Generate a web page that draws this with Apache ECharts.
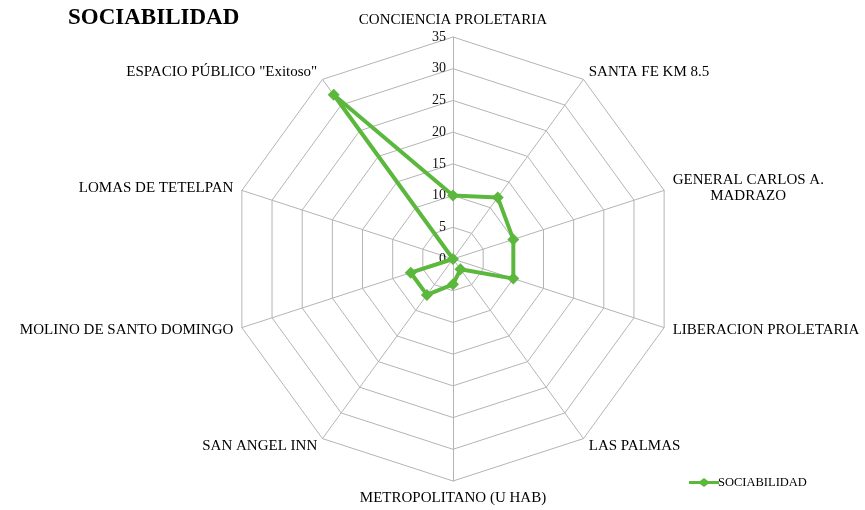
<!DOCTYPE html>
<html>
<head>
<meta charset="utf-8">
<script src="https://cdn.jsdelivr.net/npm/echarts@6/dist/echarts.min.js"></script>
<style>
  html, body { margin: 0; padding: 0; background: #fff; }
  #chart { width: 865px; height: 510px; }
</style>
</head>
<body>
<div id="chart"></div>
<script>
// categories in clockwise order starting from the top
var places = [
  'CONCIENCIA PROLETARIA',
  'SANTA FE KM 8.5',
  'GENERAL CARLOS A.\n          MADRAZO',
  'LIBERACION PROLETARIA',
  'LAS PALMAS',
  'METROPOLITANO (U HAB)',
  'SAN ANGEL INN',
  'MOLINO DE SANTO DOMINGO',
  'LOMAS DE TETELPAN',
  'ESPACIO PÚBLICO "Exitoso"'
];
var sociabilidad = [10, 12, 10, 10, 2, 4, 7, 7, 0, 32];
var ticks = [0, 5, 10, 15, 20, 25, 30, 35];

var green = '#5cb83c';
var serif = '"Liberation Serif", "DejaVu Serif", serif';

// radar runs counter-clockwise, so keep the first one on top and flip the rest
var order = [0].concat(places.map(function (p, i) { return i; }).slice(1).reverse());

var myChart = echarts.init(document.getElementById('chart'));

option = {
  animation: false,
  textStyle: { fontFamily: serif },
  title: {
    text: 'SOCIABILIDAD',
    left: 63,
    top: 2,
    textStyle: { fontFamily: serif, fontSize: 23, fontWeight: 'bold', color: '#000' }
  },
  legend: {
    data: ['SOCIABILIDAD'],
    left: 684,
    top: 471,
    itemWidth: 30,
    itemHeight: 9,
    itemGap: 2,
    icon: 'path://M0,3.5 L11,3.5 L15,0.5 L19,3.5 L30,3.5 L30,6.5 L19,6.5 L15,9.5 L11,6.5 L0,6.5 Z',
    textStyle: { fontFamily: serif, fontSize: 12.5, color: '#000', padding: [0, 0, 0, -6] }
  },
  grid: { left: 453, top: 37, width: 0, height: 222 },
  xAxis: { type: 'value', show: false },
  yAxis: {
    type: 'value',
    min: ticks[0],
    max: ticks[ticks.length - 1],
    interval: 5,
    axisLine: { show: false },
    axisTick: { show: false },
    splitLine: { show: false },
    axisLabel: { fontFamily: serif, fontSize: 14, color: '#111', margin: 7 }
  },
  radar: {
    center: [453, 259],
    radius: 222,
    startAngle: 90,
    shape: 'polygon',
    splitNumber: 7,
    indicator: order.map(function (i) { return { name: places[i], max: 35, min: 0 }; }),
    axisName: { color: '#000', fontFamily: serif, fontSize: 15, lineHeight: 16 },
    nameGap: 9,
    axisLine: { lineStyle: { color: '#b4b4b4', width: 1 } },
    splitLine: { lineStyle: { color: '#b4b4b4', width: 1 } },
    splitArea: { show: false },
    axisLabel: { show: false }
  },
  series: [{
    name: 'SOCIABILIDAD',
    type: 'radar',
    symbol: 'diamond',
    symbolSize: 12,
    itemStyle: { color: green },
    lineStyle: { color: green, width: 4 },
    data: [{ value: order.map(function (i) { return sociabilidad[i]; }), name: 'SOCIABILIDAD' }]
  }]
};

myChart.setOption(option);
</script>
</body>
</html>
